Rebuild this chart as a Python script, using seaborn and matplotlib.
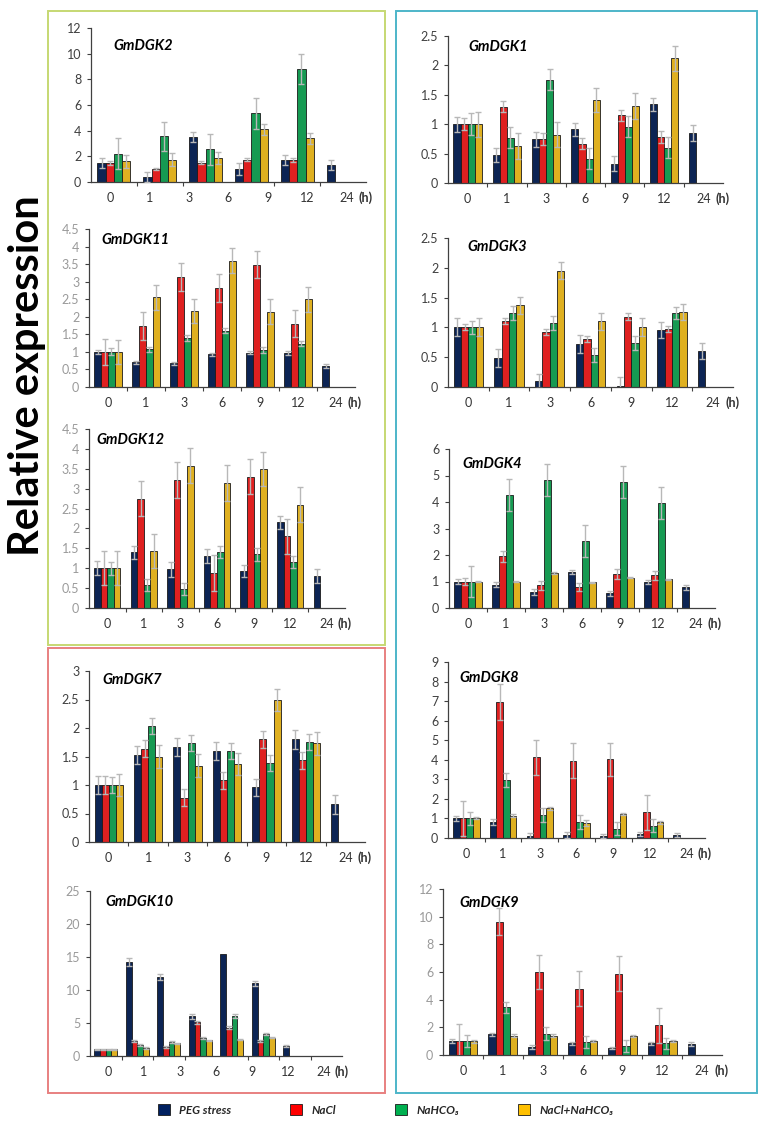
import numpy as np
import pandas as pd
import matplotlib
matplotlib.use("Agg")
import matplotlib.pyplot as plt
import matplotlib.colors as mcolors
from matplotlib.patches import Rectangle, Patch
from matplotlib.ticker import FuncFormatter, FixedLocator
import seaborn as sns

nan = np.nan

# treatments / colours
treatments = ["PEG stress", "NaCl", "NaHCO3", "NaCl+NaHCO3"]
legend_labels = ["PEG stress", "NaCl", "NaHCO\u2083", "NaCl+NaHCO\u2083"]
colors = ["#002060", "#ff0000", "#00b050", "#ffc000"]
hours = ["0", "1", "3", "6", "9", "12", "24"]

# rows = treatments, columns = bar slots
dgk2_mean = [[1.5, 0.4, 3.5, 1.0, 1.7, 1.3],
             [1.5, 1.0, 1.5, 1.75, 1.7, nan],
             [2.2, 3.55, 2.55, 5.35, 8.8, nan],
             [1.6, 1.75, 1.85, 4.1, 3.4, nan]]
dgk2_err = [[0.4, 0.4, 0.4, 0.45, 0.4, 0.4],
            [0.15, 0.1, 0.1, 0.1, 0.15, nan],
            [1.2, 1.15, 1.2, 1.2, 1.2, nan],
            [0.5, 0.5, 0.45, 0.45, 0.45, nan]]

dgk11_mean = [[1.0, 0.7, 0.67, 0.93, 0.98, 0.97, 0.6],
              [1.0, 1.75, 3.12, 2.83, 3.48, 1.8, nan],
              [1.0, 1.07, 1.4, 1.6, 1.05, 1.23, nan],
              [1.0, 2.55, 2.17, 3.6, 2.15, 2.5, nan]]
dgk11_err = [[0.05, 0.05, 0.05, 0.05, 0.05, 0.05, 0.05],
             [0.38, 0.4, 0.4, 0.4, 0.38, 0.38, nan],
             [0.1, 0.07, 0.08, 0.07, 0.08, 0.07, nan],
             [0.35, 0.35, 0.35, 0.35, 0.35, 0.35, nan]]

dgk12_mean = [[1.0, 1.4, 0.97, 1.3, 0.93, 2.15, 0.8],
              [1.0, 2.75, 3.22, 0.87, 3.3, 1.8, nan],
              [1.0, 0.58, 0.48, 1.4, 1.35, 1.15, nan],
              [1.0, 1.43, 3.58, 3.15, 3.5, 2.6, nan]]
dgk12_err = [[0.17, 0.17, 0.18, 0.18, 0.16, 0.17, 0.17],
             [0.43, 0.44, 0.45, 0.45, 0.44, 0.45, nan],
             [0.16, 0.15, 0.15, 0.15, 0.16, 0.15, nan],
             [0.43, 0.43, 0.44, 0.45, 0.43, 0.43, nan]]

dgk7_mean = [[1.0, 1.52, 1.67, 1.59, 0.96, 1.8, 0.66],
             [1.0, 1.64, 0.78, 1.08, 1.8, 1.43, nan],
             [1.0, 2.04, 1.73, 1.59, 1.39, 1.76, nan],
             [1.0, 1.5, 1.34, 1.37, 2.49, 1.73, nan]]
dgk7_err = [[0.16, 0.16, 0.16, 0.16, 0.15, 0.16, 0.16],
            [0.15, 0.15, 0.15, 0.15, 0.15, 0.15, nan],
            [0.14, 0.14, 0.14, 0.14, 0.14, 0.14, nan],
            [0.2, 0.2, 0.2, 0.2, 0.2, 0.2, nan]]

dgk10_mean = [[1.0, 14.3, 12.0, 6.0, 15.4, 11.0, 1.5, nan],
              [1.0, 2.3, 1.4, 5.1, 4.3, 2.3, nan, nan],
              [1.0, 1.7, 2.1, 2.8, 6.0, 3.4, nan, nan],
              [1.0, 1.2, 1.9, 2.4, 2.5, 2.8, nan, nan]]
dgk10_err = [[0.1, 0.6, 0.5, 0.4, 0.0, 0.4, 0.1, nan],
             [0.1, 0.2, 0.15, 0.25, 0.25, 0.2, nan, nan],
             [0.1, 0.15, 0.15, 0.15, 0.3, 0.15, nan, nan],
             [0.1, 0.1, 0.1, 0.1, 0.1, 0.1, nan, nan]]

dgk1_mean = [[1.0, 0.47, 0.74, 0.91, 0.33, 1.34, 0.85],
             [1.0, 1.3, 0.75, 0.67, 1.15, 0.78, nan],
             [1.0, 0.77, 1.76, 0.41, 0.96, 0.6, nan],
             [1.0, 0.63, 0.82, 1.41, 1.31, 2.12, nan]]
dgk1_err = [[0.13, 0.12, 0.12, 0.11, 0.13, 0.11, 0.13],
            [0.1, 0.1, 0.1, 0.1, 0.1, 0.1, nan],
            [0.19, 0.18, 0.18, 0.18, 0.18, 0.18, nan],
            [0.21, 0.22, 0.21, 0.21, 0.22, 0.21, nan]]

dgk3_mean = [[1.0, 0.49, 0.1, 0.72, 0.02, 0.96, 0.6],
             [1.0, 1.1, 0.92, 0.81, 1.18, 0.98, nan],
             [1.0, 1.24, 1.07, 0.54, 0.74, 1.24, nan],
             [1.0, 1.37, 1.95, 1.1, 1.0, 1.26, nan]]
dgk3_err = [[0.15, 0.15, 0.12, 0.15, 0.14, 0.13, 0.13],
            [0.05, 0.05, 0.05, 0.05, 0.06, 0.05, nan],
            [0.11, 0.12, 0.12, 0.12, 0.12, 0.1, nan],
            [0.15, 0.14, 0.14, 0.14, 0.15, 0.14, nan]]

dgk4_mean = [[1.0, 0.88, 0.6, 1.35, 0.55, 0.97, 0.78],
             [1.0, 1.95, 0.85, 0.8, 1.28, 1.23, nan],
             [1.0, 4.27, 4.82, 2.53, 4.75, 3.97, nan],
             [1.0, 1.0, 1.32, 0.97, 1.15, 1.08, nan]]
dgk4_err = [[0.08, 0.1, 0.1, 0.08, 0.1, 0.08, 0.1],
            [0.15, 0.2, 0.18, 0.15, 0.18, 0.18, nan],
            [0.6, 0.6, 0.6, 0.6, 0.6, 0.6, nan],
            [0.03, 0.03, 0.03, 0.03, 0.03, 0.03, nan]]

dgk8_mean = [[1.0, 0.8, 0.1, 0.15, 0.1, 0.2, 0.15],
             [1.0, 6.95, 4.12, 3.95, 4.02, 1.32, nan],
             [1.0, 2.95, 1.18, 0.82, 0.48, 0.62, nan],
             [1.0, 1.15, 1.52, 0.78, 1.22, 0.8, nan]]
dgk8_err = [[0.12, 0.15, 0.15, 0.15, 0.12, 0.12, 0.12],
            [0.9, 0.9, 0.9, 0.9, 0.85, 0.9, nan],
            [0.35, 0.35, 0.35, 0.35, 0.35, 0.33, nan],
            [0.05, 0.08, 0.08, 0.15, 0.05, 0.08, nan]]

dgk9_mean = [[1.0, 1.5, 0.55, 0.85, 0.5, 0.85, 0.8],
             [1.0, 9.65, 6.0, 4.8, 5.88, 2.15, nan],
             [1.0, 3.45, 1.55, 0.92, 0.65, 0.85, nan],
             [1.0, 1.4, 1.4, 1.0, 1.4, 1.0, nan]]
dgk9_err = [[0.15, 0.1, 0.15, 0.1, 0.1, 0.1, 0.12],
            [1.25, 0.95, 1.25, 1.25, 1.25, 1.25, nan],
            [0.45, 0.4, 0.45, 0.45, 0.4, 0.4, nan],
            [0.1, 0.1, 0.1, 0.08, 0.08, 0.08, nan]]

W, H = 772, 1128
DARK = "#404040"
LIGHT = "#9a9a9a"

# name, mean, err, ymax, ystep, (left, top, right, bottom) px, ytick colour, title pos
panels = [
    ("GmDGK2", dgk2_mean, dgk2_err, 12, 2, (91, 28, 366, 182), DARK, (0.08, 0.93)),
    ("GmDGK11", dgk11_mean, dgk11_err, 4.5, 0.5, (89, 229, 355, 387), LIGHT, (0.045, 0.975)),
    ("GmDGK12", dgk12_mean, dgk12_err, 4.5, 0.5, (89, 429, 345, 608), LIGHT, (0.03, 0.975)),
    ("GmDGK7", dgk7_mean, dgk7_err, 3, 0.5, (89, 671, 365, 842), DARK, (0.05, 0.99)),
    ("GmDGK10", dgk10_mean, dgk10_err, 25, 5, (90, 891, 342, 1056), LIGHT, (0.06, 0.975)),
    ("GmDGK1", dgk1_mean, dgk1_err, 2.5, 0.5, (448, 36, 723, 183), DARK, (0.073, 0.97)),
    ("GmDGK3", dgk3_mean, dgk3_err, 2.5, 0.5, (448, 238, 733, 387), DARK, (0.067, 0.985)),
    ("GmDGK4", dgk4_mean, dgk4_err, 6, 1, (449, 449, 715, 608), DARK, (0.05, 0.95)),
    ("GmDGK8", dgk8_mean, dgk8_err, 9, 1, (448, 662, 705, 838), DARK, (0.043, 0.95)),
    ("GmDGK9", dgk9_mean, dgk9_err, 12, 2, (443, 889, 722, 1055), LIGHT, (0.06, 0.96)),
]

sns.set_theme(style="ticks")
plt.rcParams["font.family"] = ["Lato", "DejaVu Sans"]

fig = plt.figure(figsize=(W / 100, H / 100), dpi=100)

# coloured frames around the panel groups
frames = [((48, 11, 385, 645), "#c6d873"),
          ((48, 648, 385, 1093), "#e88080"),
          ((396, 11, 757, 1093), "#4db6c9")]
for (l, t, r, b), c in frames:
    fig.add_artist(Rectangle((l / W, 1 - b / H), (r - l) / W, (b - t) / H,
                             transform=fig.transFigure, fill=False,
                             edgecolor=c, linewidth=1.4))

rgb_cols = [mcolors.to_rgb(c) for c in colors]

for name, mean, err, ymax, ystep, (l, t, r, b), ycol, (tx, ty) in panels:
    n = len(mean[0])
    ax = fig.add_axes([l / W, 1 - b / H, (r - l) / W, (b - t) / H])
    rows = []
    for k, tr in enumerate(treatments):
        for s in range(n):
            rows.append({"slot": s, "treatment": tr,
                         "value": mean[k][s], "err": err[k][s]})
    df = pd.DataFrame(rows)
    sns.barplot(data=df.dropna(subset=["value"]), x="slot", y="value",
                hue="treatment", order=list(range(n)), hue_order=treatments,
                palette=colors, width=0.72, edgecolor="#1a1a1a", linewidth=0.6,
                errorbar=None, legend=False, ax=ax)

    # error bars on top of the drawn bars
    for p in ax.patches:
        h = p.get_height()
        if not np.isfinite(h) or h == 0:
            continue
        fc = p.get_facecolor()[:3]
        k = int(np.argmin([sum((a - b2) ** 2 for a, b2 in zip(fc, c)) for c in rgb_cols]))
        xc = p.get_x() + p.get_width() / 2
        s = int(round(xc))
        e = err[k][s]
        if np.isfinite(e) and e > 0:
            ax.errorbar(xc, h, yerr=e, fmt="none", ecolor="#b8b8b8",
                        elinewidth=1.0, capsize=2.2, capthick=1.0, zorder=5)

    ax.set_xlim(-0.5, n - 0.5)
    ax.set_ylim(0, ymax)
    ax.set_yticks(np.arange(0, ymax + ystep / 2, ystep))
    ax.yaxis.set_major_formatter(FuncFormatter(lambda v, p: f"{v:g}"))
    # hour labels spread over seven equal parts of the axis
    lab_pos = [-0.5 + (i + 0.5) * n / len(hours) for i in range(len(hours))]
    ax.xaxis.set_major_locator(FixedLocator(lab_pos))
    ax.set_xticklabels(hours)
    ax.xaxis.set_minor_locator(FixedLocator([s + 0.5 for s in range(n - 1)]))
    ax.tick_params(axis="x", which="major", length=0, pad=7, labelsize=9,
                   labelcolor="#333333")
    ax.tick_params(axis="x", which="minor", length=3, width=0.8, color=DARK)
    ax.tick_params(axis="y", length=3, width=0.8, color=DARK, labelsize=9,
                   labelcolor=ycol, pad=4)
    ax.set_xlabel("")
    ax.set_ylabel("")
    sns.despine(ax=ax)
    for sp in ["left", "bottom"]:
        ax.spines[sp].set_color(DARK)
        ax.spines[sp].set_linewidth(0.9)
    ax.annotate("(h)", xy=(1, 0), xycoords="axes fraction", xytext=(0, -7),
                textcoords="offset points", ha="center", va="top",
                fontsize=9, fontweight="bold", color="#333333")
    ax.text(tx, ty, name, transform=ax.transAxes, ha="left", va="top",
            fontsize=10.5, fontweight="bold", fontstyle="italic", color="black")

fig.text(0.035, 0.667, "Relative expression", rotation=90, ha="center",
         va="center", fontsize=30, fontweight="bold", color="black")

handles = [Patch(facecolor=c, edgecolor="#1a1a1a", linewidth=0.6) for c in colors]
fig.legend(handles, legend_labels, loc="center", bbox_to_anchor=(0.5, 0.016),
           ncol=4, frameon=False, handlelength=1.0, handleheight=1.0,
           columnspacing=5.0, handletextpad=0.8,
           prop={"size": 8.5, "weight": "bold", "style": "italic"})

fig.savefig("out.png", dpi=100)
